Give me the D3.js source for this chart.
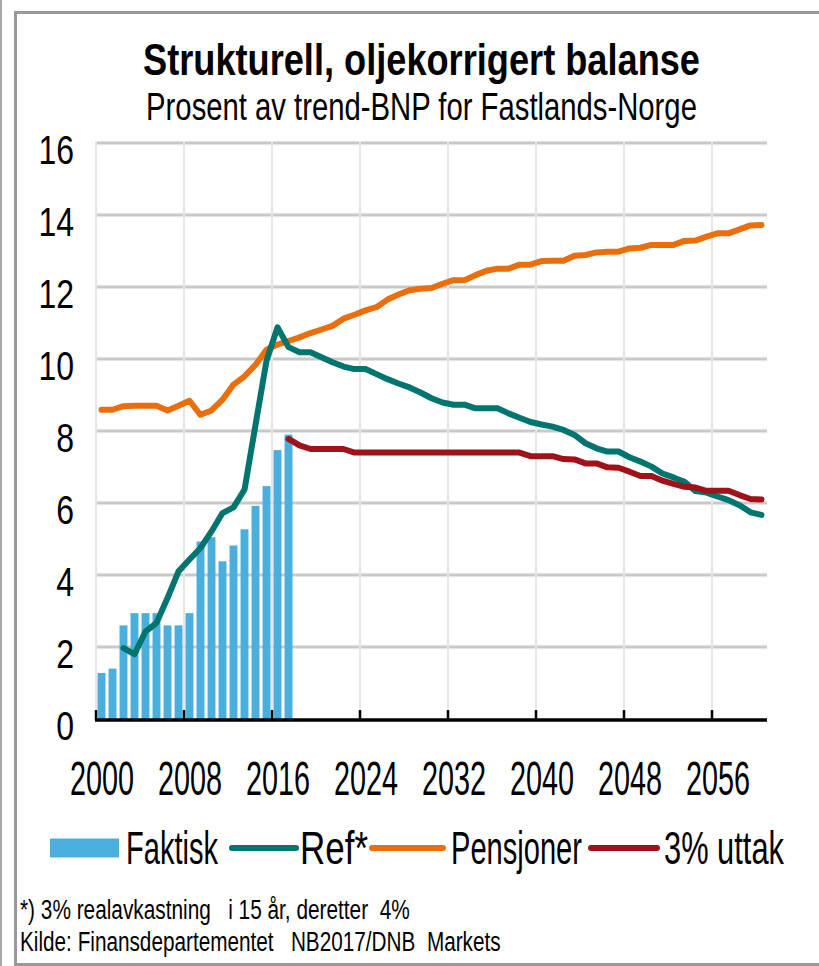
<!DOCTYPE html>
<html><head><meta charset="utf-8">
<script src="https://cdn.jsdelivr.net/npm/d3@7/dist/d3.min.js"></script>
<style>
html,body{margin:0;padding:0;background:#fff;}
svg{display:block;}
text{font-family:"Liberation Sans", Arial, sans-serif;fill:#000;}
</style></head><body>
<svg id="c" width="819" height="966"></svg>
<script>
// ---------- DATA ----------
const years = d3.range(2000, 2061);
const faktiskStart = 2000;
const faktisk = [1.28, 1.40, 2.60, 2.94, 2.94, 2.94, 2.60, 2.60, 2.94, 4.93, 5.05, 4.38, 4.82, 5.27, 5.92, 6.47, 7.47, 7.90];
const refStart = 2002;
const ref = [1.97, 1.80, 2.43, 2.67, 3.36, 4.10, 4.43, 4.75, 5.21, 5.72, 5.88, 6.37, 8.17, 9.95, 10.88,
  10.33, 10.19, 10.19, 10.05, 9.91, 9.79, 9.72, 9.72, 9.58, 9.44, 9.32, 9.21, 9.07, 8.91, 8.79,
  8.73, 8.73, 8.63, 8.63, 8.63, 8.49, 8.37, 8.25, 8.18, 8.12, 8.03, 7.89, 7.66, 7.52, 7.43,
  7.43, 7.27, 7.15, 7.01, 6.82, 6.71, 6.59, 6.33, 6.29, 6.18, 6.08, 5.94, 5.74, 5.67];
const pensjonerStart = 2000;
const pensjoner = [8.59, 8.59, 8.69, 8.70, 8.70, 8.70, 8.57, 8.70, 8.84, 8.45, 8.57, 8.87, 9.29, 9.52, 9.84,
  10.26, 10.40, 10.50, 10.60, 10.72, 10.82, 10.92, 11.12, 11.23, 11.35, 11.44, 11.65, 11.79, 11.91, 11.95,
  11.97, 12.09, 12.19, 12.19, 12.33, 12.45, 12.51, 12.51, 12.62, 12.62, 12.72, 12.73, 12.73, 12.87, 12.89,
  12.96, 12.98, 12.98, 13.07, 13.09, 13.17, 13.17, 13.17, 13.28, 13.29, 13.40, 13.49, 13.49, 13.60, 13.71, 13.72];
const uttakStart = 2017;
const uttak = [7.78, 7.60, 7.50, 7.50, 7.50, 7.50, 7.40, 7.40, 7.40, 7.40, 7.40, 7.40, 7.40, 7.40, 7.40,
  7.40, 7.40, 7.40, 7.40, 7.40, 7.40, 7.40, 7.30, 7.30, 7.30, 7.22, 7.21, 7.10, 7.10, 6.99,
  6.98, 6.87, 6.75, 6.75, 6.62, 6.53, 6.45, 6.43, 6.34, 6.34, 6.34, 6.22, 6.11, 6.10];
const yTicks = [0, 2, 4, 6, 8, 10, 12, 14, 16];
const xTicks = [2000, 2008, 2016, 2024, 2032, 2040, 2048, 2056];
const legendLabels = ["Faktisk", "Ref*", "Pensjoner", "3% uttak"];
const titleText = "Strukturell, oljekorrigert balanse";
const subtitleText = "Prosent av trend-BNP for Fastlands-Norge";
const noteLines = ["*) 3% realavkastning   i 15 år, deretter  4%", "Kilde: Finansdepartementet   NB2017/DNB  Markets"];

// ---------- STYLE ----------
const C = {bar: "#4BAFDE", ref: "#007570", pens: "#EA6E0C", uttak: "#A0121A"};
const svg = d3.select("#c");
const L = 96, R = 767, T = 143, B = 719;

const x = d3.scaleBand().domain(years).range([L, R]).paddingInner(0.28).paddingOuter(0.14);
const xEdge = d3.scaleLinear().domain([2000, 2061]).range([L, R]);
const y = d3.scaleLinear().domain([0, 16]).range([B, T]);
const cx = yr => x(yr) + x.bandwidth() / 2;

// frame
svg.append("line").attr("x1", 1).attr("x2", 1).attr("y1", 0).attr("y2", 966).attr("stroke", "#8a8a8a").attr("stroke-width", 1.5);
svg.append("path").attr("d", "M830,12.5 H15.5 V964.5 H830").attr("fill", "none").attr("stroke", "#999").attr("stroke-width", 3);

// horizontal grid
svg.append("g").selectAll("line").data(yTicks.filter(d => d > 0)).join("line")
  .attr("x1", L).attr("x2", R).attr("y1", d => y(d)).attr("y2", d => y(d))
  .attr("stroke", "#C8C8C8").attr("stroke-width", 3);
// vertical grid
svg.append("g").selectAll("line").data(xTicks).join("line")
  .attr("x1", d => xEdge(d)).attr("x2", d => xEdge(d)).attr("y1", T - 1.5).attr("y2", B)
  .attr("stroke", "#E6E6E6").attr("stroke-width", 2);

// bars
const barData = faktisk.map((v, i) => ({year: faktiskStart + i, v}));
svg.append("g").selectAll("rect").data(barData).join("rect")
  .attr("x", d => x(d.year)).attr("width", x.bandwidth())
  .attr("y", d => y(d.v)).attr("height", d => y(0) - y(d.v))
  .attr("fill", C.bar);

// lines
function series(arr, start) { return arr.map((v, i) => ({year: start + i, v})); }
const line = d3.line().x(d => cx(d.year)).y(d => y(d.v));
[[pensjoner, pensjonerStart, C.pens], [ref, refStart, C.ref], [uttak, uttakStart, C.uttak]].forEach(([a, s, col]) => {
  svg.append("path").datum(series(a, s)).attr("d", line).attr("fill", "none")
    .attr("stroke", col).attr("stroke-width", 6).attr("stroke-linecap", "round").attr("stroke-linejoin", "round");
});

// x axis
const xAxis = d3.axisBottom(xEdge).tickValues(xTicks).tickSize(0).tickFormat(d3.format("d"));
const gx = svg.append("g").attr("transform", `translate(0,${B + 1})`).call(xAxis);
gx.select(".domain").remove();
gx.selectAll(".tick line").remove();
gx.selectAll(".tick text").attr("y", 0).attr("dy", 0)
  .attr("transform", d => `translate(${cx(d) - xEdge(d)},75) scale(0.6,1)`)
  .attr("font-size", 48).attr("font-family", "Liberation Sans, Arial, sans-serif").attr("fill", "#000");
svg.append("line").attr("x1", L - 1).attr("x2", R).attr("y1", B + 1).attr("y2", B + 1).attr("stroke", "#000").attr("stroke-width", 3.5);
svg.append("g").selectAll("line").data(xTicks).join("line")
  .attr("x1", d => xEdge(d)).attr("x2", d => xEdge(d)).attr("y1", B + 1).attr("y2", B - 9)
  .attr("stroke", "#000").attr("stroke-width", 2.5);

// y axis labels
const yAxis = d3.axisLeft(y).tickValues(yTicks).tickSize(0).tickFormat(d3.format("d"));
const gy = svg.append("g").attr("transform", `translate(74,0)`).call(yAxis);
gy.select(".domain").remove();
gy.selectAll(".tick line").remove();
gy.selectAll(".tick text").attr("x", 0).attr("dy", 0)
  .attr("transform", "translate(0,20) scale(0.8,1)")
  .attr("font-size", 40).attr("font-family", "Liberation Sans, Arial, sans-serif").attr("fill", "#000");

// texts: horizontally scaled to a target width
function txt(str, xx, yy, size, w, anchor, weight) {
  const t = svg.append("text").attr("font-size", size)
    .attr("text-anchor", anchor || "start").attr("font-weight", weight || "normal")
    .style("white-space", "pre").text(str);
  const nat = t.node().getComputedTextLength();
  const s = w / nat;
  t.attr("transform", `translate(${xx},${yy}) scale(${s},1)`);
  return t;
}
txt(titleText, 421.5, 75, 45, 557, "middle", "bold");
txt(subtitleText, 421.5, 120, 38, 551, "middle");

// legend
const LY = 848;
svg.append("rect").attr("x", 50).attr("y", LY - 9.5).attr("width", 69).attr("height", 19).attr("fill", C.bar);
txt(legendLabels[0], 126, LY + 16, 46, 92);
[[232, 296, C.ref], [372, 443, C.pens], [591, 657, C.uttak]].forEach(([a, b, col]) => {
  svg.append("line").attr("x1", a).attr("x2", b).attr("y1", LY).attr("y2", LY)
    .attr("stroke", col).attr("stroke-width", 6).attr("stroke-linecap", "round");
});
txt(legendLabels[1], 300, LY + 16, 46, 68);
txt(legendLabels[2], 451, LY + 16, 46, 131);
txt(legendLabels[3], 664, LY + 16, 46, 120);

// notes
txt(noteLines[0], 20, 919, 28, 390);
txt(noteLines[1], 20, 951, 28, 481);
</script>
</body></html>
